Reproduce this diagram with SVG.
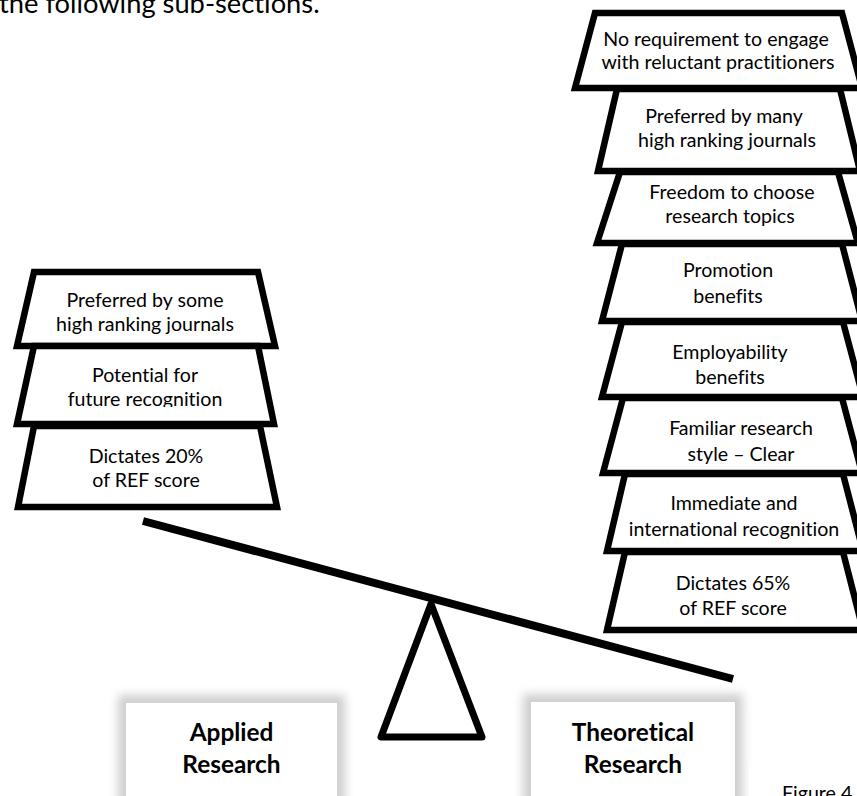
<svg xmlns="http://www.w3.org/2000/svg" width="857" height="796" viewBox="0 0 857 796">
  <style>
    text { font-variant-ligatures: none; }
    .blk { fill: #fff; stroke: #000; stroke-width: 6.5; stroke-linejoin: miter; }
    .lbl { font-family: Lato, "Liberation Sans", sans-serif; font-size: 19.6px; fill: #000; text-anchor: middle; }
    .ttl { font-family: Lato, "Liberation Sans", sans-serif; font-size: 24.4px; font-weight: bold; fill: #000; text-anchor: middle; }
    .body { font-family: Lato, "Liberation Sans", sans-serif; font-size: 27.3px; fill: #000; }
    .cap { font-family: Lato, "Liberation Sans", sans-serif; font-size: 19.6px; fill: #000; }
  </style>
  <defs>
    <filter id="glow" x="-20%" y="-20%" width="140%" height="140%">
      <feGaussianBlur stdDeviation="5"/>
    </filter>
    <clipPath id="clipFuture">
      <rect x="0" y="346" width="300" height="61"/>
    </clipPath>
  </defs>

  <rect width="857" height="796" fill="#fff"/>

  <!-- running body text at the top of the page -->
  <text class="body" x="-1" y="13">the following sub-sections.</text>

  <!-- left pile: applied research -->
  <g id="applied-journals">
    <polygon class="blk" points="34,272 258,272 275,346 17,346"/>
    <text class="lbl" x="145" y="307">Preferred by some</text>
    <text class="lbl" x="145" y="331">high ranking journals</text>
  </g>
  <g id="applied-recognition">
    <polygon class="blk" points="34,346 258,346 274,424 17,424"/>
    <g clip-path="url(#clipFuture)">
      <text class="lbl" x="145" y="382">Potential for</text>
      <text class="lbl" x="145" y="406">future recognition</text>
    </g>
  </g>
  <g id="applied-ref">
    <polygon class="blk" points="34,426 260,426 277,507 18,507"/>
    <text class="lbl" x="146" y="463">Dictates 20%</text>
    <text class="lbl" x="146" y="487">of REF score</text>
  </g>

  <!-- right pile: theoretical research -->
  <g id="theory-practitioners">
    <polygon class="blk" points="595,13 842,13 862,88 575,88"/>
    <text class="lbl" x="716" y="45.5">No requirement to engage</text>
    <text class="lbl" x="718" y="68.5">with reluctant practitioners</text>
  </g>
  <g id="theory-journals">
    <polygon class="blk" points="617,89 840,89 860,171 598,171"/>
    <text class="lbl" x="724" y="123">Preferred by many</text>
    <text class="lbl" x="727" y="147">high ranking journals</text>
  </g>
  <g id="theory-freedom">
    <polygon class="blk" points="620,172 838,172 858,243 597,243"/>
    <text class="lbl" x="732" y="199">Freedom to choose</text>
    <text class="lbl" x="730" y="223">research topics</text>
  </g>
  <g id="theory-promotion">
    <polygon class="blk" points="622,244 842,244 862,321 602,321"/>
    <text class="lbl" x="728" y="277">Promotion</text>
    <text class="lbl" x="728" y="302.5">benefits</text>
  </g>
  <g id="theory-employability">
    <polygon class="blk" points="622,322 843,322 863,397 602,397"/>
    <text class="lbl" x="730" y="359">Employability</text>
    <text class="lbl" x="730" y="384">benefits</text>
  </g>
  <g id="theory-familiar">
    <polygon class="blk" points="623,398 842,398 862,473 603,473"/>
    <text class="lbl" x="741" y="435">Familiar research</text>
    <text class="lbl" x="741" y="460.5">style – Clear</text>
  </g>
  <g id="theory-recognition">
    <polygon class="blk" points="625,474 843,474 863,551 607,551"/>
    <text class="lbl" x="734" y="510">Immediate and</text>
    <text class="lbl" x="734" y="536">international recognition</text>
  </g>
  <g id="theory-ref">
    <polygon class="blk" points="625,552 843,552 863,630 607,630"/>
    <text class="lbl" x="733" y="590">Dictates 65%</text>
    <text class="lbl" x="733" y="615">of REF score</text>
  </g>

  <!-- seesaw: tilted beam resting on a triangular fulcrum -->
  <g id="connectors">
    <line x1="143" y1="521" x2="733" y2="679" stroke="#000" stroke-width="8"/>
    <polygon points="431,604 381,737 482,737" fill="#fff" stroke="#000" stroke-width="7" stroke-linejoin="round"/>
  </g>

  <!-- labels under each side of the seesaw -->
  <g id="applied">
    <rect x="118" y="695" width="227" height="120" fill="#cfcfcf" filter="url(#glow)"/>
    <rect x="126" y="703" width="211" height="100" fill="#fff"/>
    <text class="ttl" x="231.5" y="741">Applied</text>
    <text class="ttl" x="231.5" y="773">Research</text>
  </g>
  <g id="theoretical">
    <rect x="523" y="694" width="220" height="120" fill="#cfcfcf" filter="url(#glow)"/>
    <rect x="531" y="702" width="204" height="100" fill="#fff"/>
    <text class="ttl" x="633" y="741">Theoretical</text>
    <text class="ttl" x="633" y="773">Research</text>
  </g>

  <!-- figure caption box -->
  <g id="caption">
    <rect x="749" y="767" width="120" height="40" fill="#fff"/>
    <text class="cap" x="782" y="800">Figure 4</text>
  </g>
</svg>
